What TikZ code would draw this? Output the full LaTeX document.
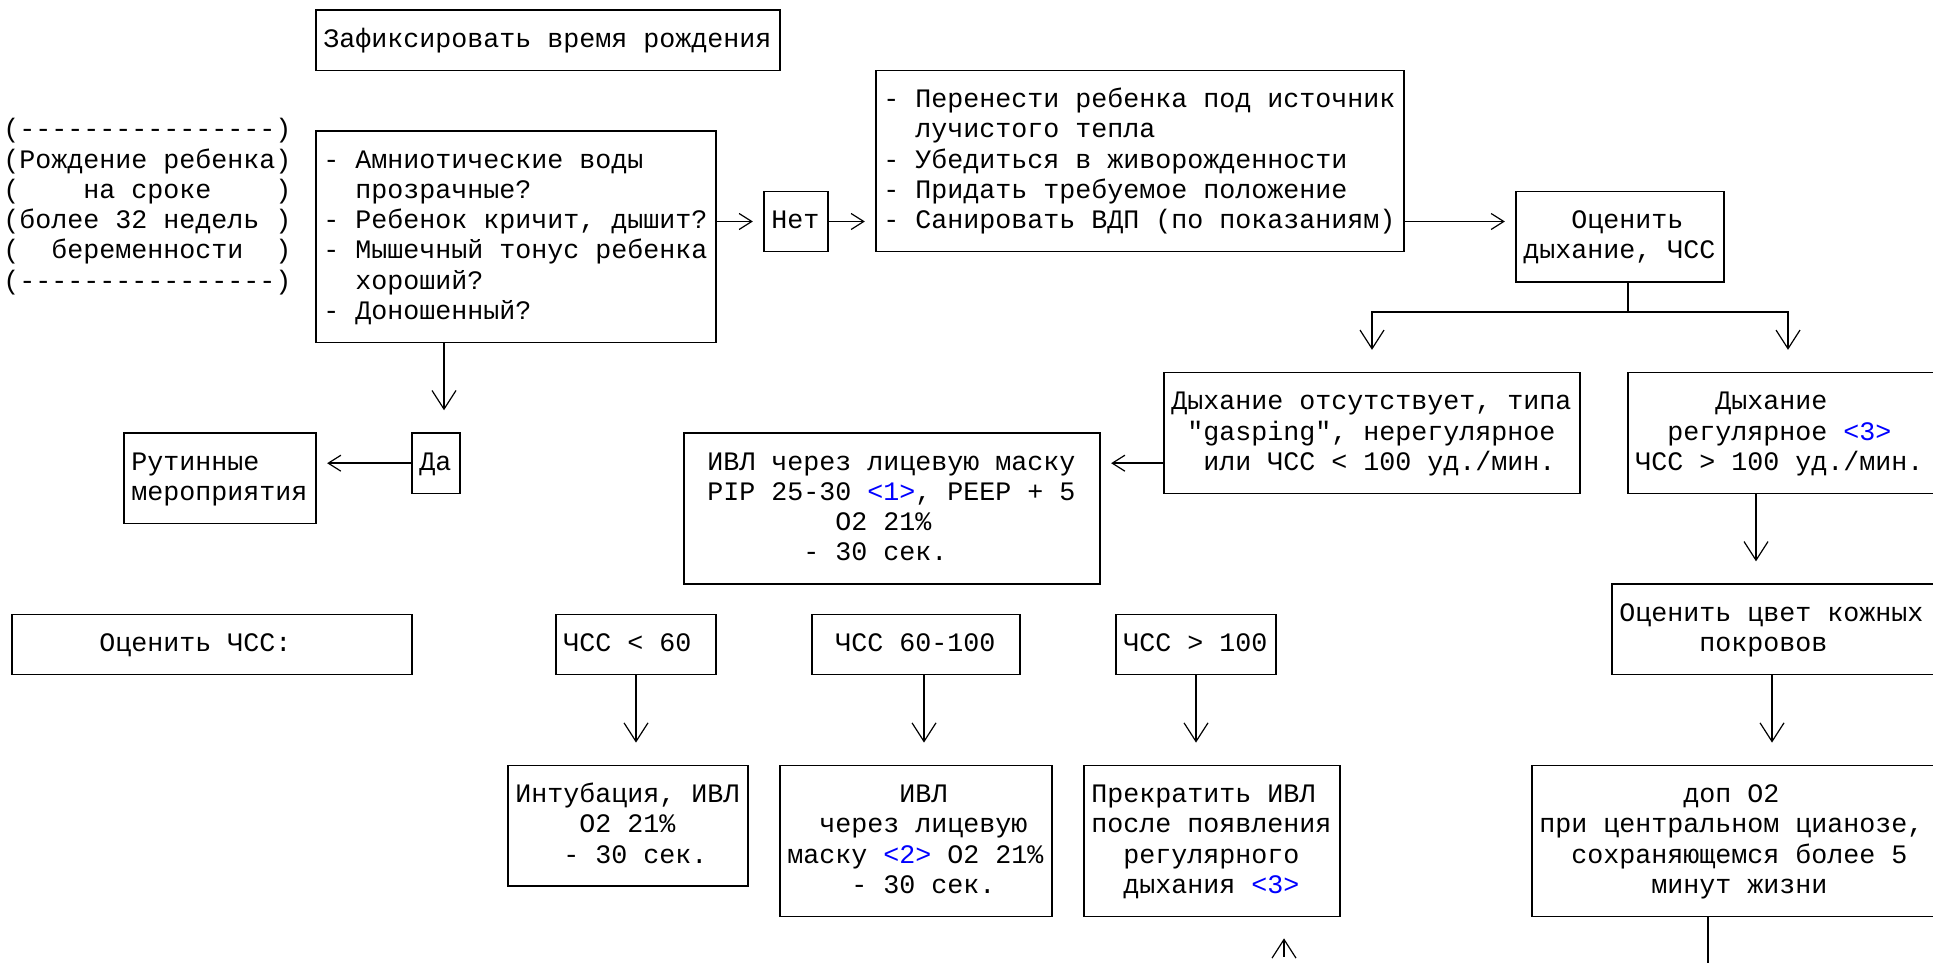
\documentclass[tikz,border=0pt]{standalone}
\usepackage{fontspec}
\setmonofont{Liberation Mono}
\usepackage{xcolor}
\usepackage{tikz}
\usetikzlibrary{arrows.meta}

\newlength{\colw}\setlength{\colw}{12pt}
\newlength{\rowh}\setlength{\rowh}{22.66pt}
\newcommand{\rs}{\rule[-6pt]{0pt}{22.66pt}}
\newcommand{\ind}[1]{\hspace*{#1\colw}}
\newcommand{\lnk}[1]{\textcolor{blue}{#1}}

\tikzset{
  box/.style={draw, inner sep=0pt, align=left, font=\ttfamily,
    execute at begin node={\fontsize{20pt}{22.66pt}\selectfont\frenchspacing
      \spaceskip=\colw\relax\xspaceskip=\colw\relax}},
  cells/.style 2 args={text width=#1*\colw+1pt, minimum width=#1*\colw+\colw,
    minimum height=#2*\rowh+\rowh},
  harr/.style={-{Straight Barb[length=9.5pt, width=12pt, line width=0.9pt]}, shorten >=7.8pt},
  varr/.style={-{Straight Barb[length=14pt, width=18pt, line width=0.9pt]}, shorten >=16.5pt}
}

\begin{document}
\begin{tikzpicture}[x=12pt, y=-22.66pt, line width=1.1pt]
\useasboundingbox (-0.25,-0.331) rectangle (120.5625,31.51);

\node [box, cells={28}{1}] (fix) at (34,1) {\rs Зафиксировать время рождения};
\node [box, draw=none, cells={18}{6}] (birth) at (9,6.5) {\rs(----------------)\\\rs(Рождение ребенка)\\\rs(\ind{4}на сроке\ind{4})\\\rs(более 32 недель )\\\rs(\ind{2}беременности\ind{2})\\\rs(----------------)};
\node [box, cells={24}{6}] (quest) at (32,7.5) {\rs- Амниотические воды\\\rs\ind{2}прозрачные?\\\rs- Ребенок кричит, дышит?\\\rs- Мышечный тонус ребенка\\\rs\ind{2}хороший?\\\rs- Доношенный?};
\node [box, cells={3}{1}] (no) at (49.5,7) {\rs Нет};
\node [box, cells={32}{5}] (care) at (71,5) {\rs- Перенести ребенка под источник\\\rs\ind{2}лучистого тепла\\\rs- Убедиться в живорожденности\\\rs- Придать требуемое положение\\\rs- Санировать ВДП (по показаниям)};
\node [box, cells={12}{2}] (eval) at (101,7.5) {\rs\ind{3}Оценить\\\rs дыхание, ЧСС};

\node [box, cells={25}{3}] (absent) at (85.5,14) {\rs Дыхание отсутствует, типа\\\rs\ind{1}"gasping", нерегулярное\\\rs\ind{2}или ЧСС < 100 уд./мин.};
\node [box, cells={19}{3}] (regular) at (111.5,14) {\rs\ind{5}Дыхание\\\rs\ind{2}регулярное \lnk{<3>}\\\rs ЧСС > 100 уд./мин.};
\node [box, cells={25}{4}] (mask) at (55.5,16.5) {\rs\ind{1}ИВЛ через лицевую маску\\\rs\ind{1}PIP 25-30 \lnk{<1>}, PEEP + 5\\\rs\ind{9}O2 21\%\\\rs\ind{7}- 30 сек.};
\node [box, cells={2}{1}] (yes) at (27,15) {\rs Да};
\node [box, cells={11}{2}] (routine) at (13.5,15.5) {\rs Рутинные\\\rs мероприятия};

\node [box, cells={24}{1}] (hrlabel) at (13,21) {\rs\ind{5}Оценить ЧСС:};
\node [box, cells={9}{1}] (hrlow) at (39.5,21) {\rs ЧСС < 60};
\node [box, cells={12}{1}] (hrmid) at (57,21) {\rs\ind{1}ЧСС 60-100};
\node [box, cells={9}{1}] (hrhigh) at (74.5,21) {\rs ЧСС > 100};
\node [box, cells={20}{2}] (skin) at (111,20.5) {\rs Оценить цвет кожных\\\rs\ind{5}покровов};

\node [box, cells={14}{3}] (intub) at (39,27) {\rs Интубация, ИВЛ\\\rs\ind{4}O2 21\%\\\rs\ind{3}- 30 сек.};
\node [box, cells={16}{4}] (facemask) at (57,27.5) {\rs\ind{7}ИВЛ\\\rs\ind{2}через лицевую\\\rs маску \lnk{<2>} O2 21\%\\\rs\ind{4}- 30 сек.};
\node [box, cells={15}{4}] (stop) at (75.5,27.5) {\rs Прекратить ИВЛ\\\rs после появления\\\rs\ind{2}регулярного\\\rs\ind{2}дыхания \lnk{<3>}};
\node [box, cells={25}{4}] (oxygen) at (108.5,27.5) {\rs\ind{9}доп O2\\\rs при центральном цианозе,\\\rs\ind{2}сохраняющемся более 5\\\rs\ind{7}минут жизни};

% top row
\draw [harr] (quest.east |- no.west) -- (no.west);
\draw [harr] (no.east) -- (no.east -| care.west);
\draw [harr] (care.east |- no.east) -- (no.east -| eval.west);

% fork under eval
\coordinate (fork) at (101.5,10);
\draw (eval.south -| fork) -- (fork);
\draw [varr] (fork) -| (absent.north);
\draw [varr] (fork) -| (regular.north);

\coordinate (dn) at ([yshift=-\rowh]absent.west);
\draw [harr] (dn) -- (dn -| mask.east);
\coordinate (bstem) at ([xshift=6pt]yes.north);
\draw [varr] (bstem |- quest.south) -- (bstem);
\draw [harr] (yes.west) -- (yes.west -| routine.east);

% heart rate
\draw [varr] (hrlow.south) -- (hrlow.south |- intub.north);
\coordinate (mstem) at ([xshift=6pt]hrmid.south);
\draw [varr] (mstem) -- (mstem |- facemask.north);
\draw [varr] (hrhigh.south) -- (hrhigh.south |- stop.north);
\coordinate (upfrom) at (80,31.33);
\draw [varr, shorten >=15.9pt] (upfrom) -- (upfrom |- stop.south);

% right column
\coordinate (rstem) at ([xshift=-24pt]regular.south);
\draw [varr] (rstem) -- (rstem |- skin.north);
\coordinate (sstem) at ([xshift=-6pt]skin.south);
\draw [varr] (sstem) -- (sstem |- oxygen.north);
\coordinate (ostem) at ([xshift=-24pt]oxygen.south);
\coordinate (oxout) at (106.5,31.6);
\draw (ostem) -- (oxout);

\end{tikzpicture}
\end{document}
